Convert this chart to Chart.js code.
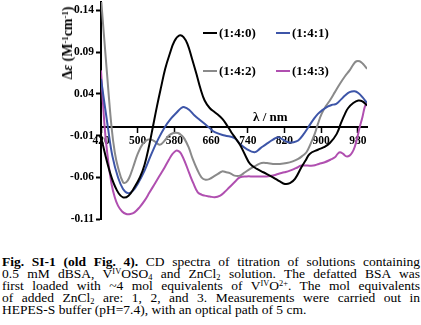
<!DOCTYPE html>
<html lang="en">
<head>
  <meta charset="UTF-8" />
  <title>CD spectra - Fig. SI-1</title>
  <script src="https://cdn.jsdelivr.net/npm/chart.js"></script>
  <style>
    body { margin: 0; padding: 0; background: #fff; font-family: "Liberation Serif", "Times New Roman", serif; color: #000; }
    #wrap { position: relative; width: 421px; height: 325px; overflow: hidden; }
    #cdChart { position: absolute; left: 0; top: 0; }
    .lbl { position: absolute; font-weight: bold; font-size: 13px; line-height: 16px; white-space: nowrap; }
    .lbl .ln { display: inline-block; width: 14px; height: 2px; vertical-align: middle; margin-right: 2px; margin-top: -2px; }
    #ytitle { position: absolute; left: 68px; top: 43px; font-weight: bold; font-size: 14px; white-space: nowrap;
              transform: translate(-50%, -50%) rotate(-90deg); }
    #ytitle sup, .cap sup { font-size: 0.62em; line-height: 0; vertical-align: 0.45em; }
    .cap sub { font-size: 0.62em; line-height: 0; vertical-align: -0.25em; }
    #caption { position: absolute; left: 2px; top: 256px; width: 418px; font-size: 13.5px; line-height: 12px; }
    .cap { text-align: justify; text-align-last: justify; }
    .cap.last { text-align-last: left; }
  </style>
</head>
<body>
<div id="wrap">
  <canvas id="cdChart" width="421" height="222"></canvas>

  <div id="ytitle">&Delta;<i>&epsilon;</i> (M<sup>-1</sup>cm<sup>-1</sup>)</div>
  <div class="lbl" style="left:253px; top:109px;">&lambda; / nm</div>

  <div class="lbl" style="left:203px; top:25px;"><span class="ln" style="background:#000000"></span>(1:4:0)</div>
  <div class="lbl" style="left:276px; top:25px;"><span class="ln" style="background:#3d55a8"></span>(1:4:1)</div>
  <div class="lbl" style="left:203px; top:63px;"><span class="ln" style="background:#8a8a8a"></span>(1:4:2)</div>
  <div class="lbl" style="left:276px; top:63px;"><span class="ln" style="background:#b04fb0"></span>(1:4:3)</div>

  <div id="caption">
    <div class="cap"><b>Fig. SI-1 (old Fig. 4).</b> CD spectra of titration of solutions containing</div>
    <div class="cap">0.5 mM dBSA, V<sup>IV</sup>OSO<sub>4</sub> and ZnCl<sub>2</sub> solution. The defatted BSA was</div>
    <div class="cap">first loaded with ~4 mol equivalents of V<sup>IV</sup>O<sup>2+</sup>. The mol equivalents</div>
    <div class="cap">of added ZnCl<sub>2</sub> are: 1, 2, and 3. Measurements were carried out in</div>
    <div class="cap last">HEPES-S buffer (pH=7.4), with an optical path of 5 cm.</div>
  </div>
</div>

<script>
// axis ticks
const xTicks = [420, 500, 580, 660, 740, 820, 900, 980];
const yTicks = [-0.11, -0.06, -0.01, 0.04, 0.09, 0.14];

// (1:4:0)
const nm140 = [420, 440, 455, 468, 480, 493, 505, 515, 525, 533, 542, 551, 560, 570, 580, 591, 600, 609, 618, 628,
  637, 646, 657, 668, 677, 686, 695, 704, 713, 723, 734, 745, 760, 774, 795, 810, 821, 832, 843, 857,
  866, 875, 893, 906, 919, 934, 944, 952, 959, 970, 981, 990, 1000];
const de140 = [-0.012, -0.055, -0.076, -0.084, -0.082, -0.072, -0.060, -0.045, -0.022, 0.000, 0.025, 0.048, 0.070, 0.088, 0.103, 0.110, 0.108, 0.099, 0.083, 0.064,
  0.046, 0.032, 0.023, 0.018, 0.014, 0.009, 0.002, -0.006, -0.013, -0.021, -0.033, -0.044, -0.050, -0.054, -0.060, -0.065, -0.068, -0.067, -0.062, -0.048,
  -0.040, -0.032, -0.027, -0.024, -0.019, -0.008, 0.006, 0.016, 0.023, 0.029, 0.032, 0.031, 0.026];

// (1:4:1)
const nm141 = [420, 435, 445, 457, 468, 479, 490, 500, 515, 530, 545, 559, 572, 584, 595, 602, 612, 624, 635, 646,
  657, 668, 690, 711, 723, 737, 755, 768, 781, 795, 806, 817, 828, 840, 850, 861, 872, 883, 893, 904,
  915, 925, 933, 943, 952, 962, 973, 981, 990, 1000];
const de141 = [0.058, 0.000, -0.035, -0.060, -0.074, -0.079, -0.076, -0.068, -0.052, -0.032, -0.014, 0.000, 0.010, 0.017, 0.023, 0.024, 0.021, 0.014, 0.009, 0.004,
  -0.001, -0.006, -0.010, -0.013, -0.020, -0.026, -0.030, -0.025, -0.020, -0.015, -0.012, -0.015, -0.018, -0.018, -0.016, -0.009, 0.000, 0.009, 0.016, 0.021,
  0.025, 0.027, 0.028, 0.033, 0.038, 0.042, 0.043, 0.041, 0.036, 0.029];

// (1:4:2)
const nm142 = [420, 432, 443, 450, 457, 468, 475, 482, 490, 500, 511, 522, 530, 537, 548, 559, 568, 578, 588, 596,
  602, 611, 620, 630, 639, 648, 657, 666, 675, 684, 693, 701, 711, 723, 734, 745, 758, 770, 782, 795,
  810, 825, 838, 850, 860, 868, 877, 886, 893, 901, 910, 919, 930, 941, 952, 962, 970, 977, 984, 991, 1000];
const de142 = [0.155, 0.072, 0.000, -0.030, -0.048, -0.066, -0.066, -0.060, -0.048, -0.032, -0.020, -0.015, -0.015, -0.017, -0.021, -0.016, -0.010, -0.007, -0.007, -0.010,
  -0.014, -0.024, -0.038, -0.051, -0.060, -0.063, -0.062, -0.059, -0.056, -0.053, -0.054, -0.055, -0.058, -0.058, -0.054, -0.050, -0.046, -0.043, -0.043, -0.044,
  -0.044, -0.043, -0.041, -0.038, -0.034, -0.030, -0.020, -0.008, 0.004, 0.016, 0.025, 0.032, 0.042, 0.052, 0.061, 0.068, 0.075, 0.079, 0.079, 0.076, 0.070];

// (1:4:3)
const nm143 = [420, 428, 436, 443, 450, 457, 466, 475, 484, 493, 504, 515, 526, 537, 548, 559, 568, 576, 584, 590,
  595, 604, 613, 622, 631, 640, 646, 657, 668, 680, 689, 700, 711, 723, 737, 752, 766, 781, 795, 806,
  820, 832, 845, 857, 870, 883, 895, 908, 920, 930, 936, 941, 948, 955, 962, 968, 973, 979, 984, 990, 995, 1000];
const de143 = [0.068, 0.000, -0.042, -0.068, -0.084, -0.094, -0.101, -0.104, -0.104, -0.102, -0.096, -0.088, -0.078, -0.068, -0.058, -0.048, -0.039, -0.032, -0.028, -0.029,
  -0.032, -0.043, -0.056, -0.068, -0.078, -0.081, -0.082, -0.083, -0.084, -0.082, -0.078, -0.072, -0.066, -0.060, -0.059, -0.059, -0.059, -0.059, -0.058, -0.056,
  -0.054, -0.052, -0.049, -0.046, -0.046, -0.046, -0.044, -0.042, -0.039, -0.036, -0.032, -0.030, -0.032, -0.035, -0.034, -0.030, -0.024, -0.012, 0.000, 0.012, 0.024, 0.030];

const seriesNames = ['(1:4:0)', '(1:4:1)', '(1:4:2)', '(1:4:3)'];
const seriesColors = ['#000000', '#3d55a8', '#8a8a8a', '#b04fb0'];

const pts = (xs, ys) => xs.map((x, i) => ({ x: x, y: ys[i] }));
const allData = [pts(nm140, de140), pts(nm141, de141), pts(nm142, de142), pts(nm143, de143)];

const tickFont = { family: "'Liberation Serif', 'Times New Roman', serif", size: 11.5, weight: 'bold' };

new Chart(document.getElementById('cdChart'), {
  type: 'line',
  data: {
    datasets: allData.map((d, i) => ({
      label: seriesNames[i],
      data: d,
      borderColor: seriesColors[i],
      borderWidth: 2,
      pointRadius: 0,
      tension: 0.4,
      fill: false
    }))
  },
  options: {
    responsive: false,
    animation: false,
    devicePixelRatio: 1,
    layout: { padding: { left: 0, right: 54, top: 2, bottom: 3 } },
    plugins: { legend: { display: false }, tooltip: { enabled: false } },
    scales: {
      x: {
        type: 'linear',
        min: 420,
        max: 1000,
        position: { y: 0 },
        afterBuildTicks: (s) => { s.ticks = xTicks.map(v => ({ value: v })); },
        afterFit: (s) => { s.paddingLeft = 0; s.paddingRight = 0; },
        ticks: { font: tickFont, color: '#000', padding: 2, maxRotation: 0, autoSkip: false },
        grid: { display: true, drawOnChartArea: false, drawTicks: true, tickLength: 5, tickColor: '#000', tickWidth: 1.5 },
        border: { display: true, color: '#000', width: 2 }
      },
      y: {
        min: -0.11,
        max: 0.15,
        afterBuildTicks: (s) => { s.ticks = yTicks.map(v => ({ value: v })); },
        afterFit: (s) => { s.width = 101; s.paddingTop = 0; s.paddingBottom = 0; },
        ticks: { font: tickFont, color: '#000', padding: 2, callback: (v) => v.toFixed(2) },
        grid: { display: true, drawOnChartArea: false, drawTicks: true, tickLength: 5, tickColor: '#000', tickWidth: 2 },
        border: { display: true, color: '#000', width: 2 }
      }
    }
  }
});
</script>
</body>
</html>
